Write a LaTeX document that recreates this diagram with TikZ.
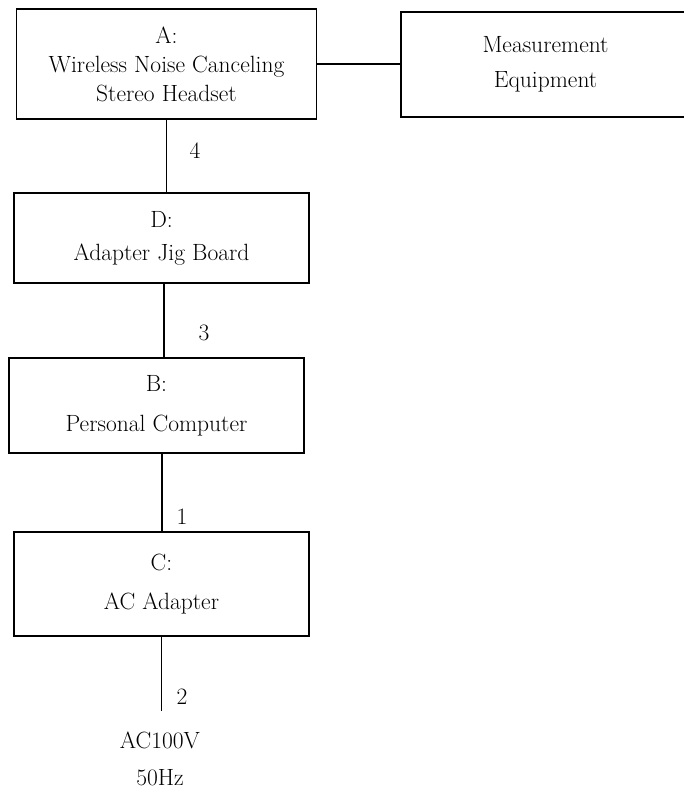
\documentclass[tikz,border=0pt]{standalone}
\usetikzlibrary{positioning}
\tikzset{
  unitbox/.style={draw, line width=1.5pt, inner sep=0pt, align=center},
  wire/.style={line width=1.5pt},
  wirelabel/.style={inner sep=0pt, font=\fontsize{23.5}{29}\selectfont},
}
\begin{document}
\begin{tikzpicture}[x=1pt,y=-1pt]
    \useasboundingbox (0,0) rectangle (683,791);
    % units
    \node[unitbox, minimum width=300pt, minimum height=110pt, font=\fontsize{23.5}{29}\selectfont] (headset) at (166.5,64) {A:\\Wireless Noise Canceling\\Stereo Headset};
    \node[unitbox, minimum width=289pt, minimum height=105pt, font=\fontsize{23.5}{35}\selectfont] (meter) at (545.5,64.5) {Measurement\\Equipment};
    \node[unitbox, minimum width=295pt, minimum height=90pt, font=\fontsize{23.5}{33}\selectfont] (jig) at (161.5,238) {D:\\Adapter Jig Board};
    \node[unitbox, minimum width=295pt, minimum height=95pt, font=\fontsize{23.5}{40}\selectfont] (pc) at (156.5,405.5) {B:\\Personal Computer};
    \node[unitbox, minimum width=295pt, minimum height=104pt, font=\fontsize{23.5}{39}\selectfont] (adapter) at (161.5,584) {C:\\AC Adapter};
    % mains
    \coordinate (mains) at (161,711);
    \node[inner sep=0pt, align=center, font=\fontsize{23.5}{37}\selectfont] (supply) at (160,759) {AC100V\\50Hz};
    % cables
    \draw[wire] (headset.east) -- (headset.east -| meter.west);
    \draw[wire] (headset.south) -- (headset.south |- jig.north);
    \draw[wire] ([xshift=2.5pt]jig.south) -- ([xshift=2.5pt]jig.south |- pc.north);
    \draw[wire] ([xshift=5.5pt]pc.south) -- ([xshift=5.5pt]pc.south |- adapter.north);
    \draw[wire] (adapter.south) -- (adapter.south |- mains);
    % cable numbers
    \node[wirelabel] (cable4) at (195,151) {4};
    \node[wirelabel] (cable3) at (204,333) {3};
    \node[wirelabel] (cable1) at (182,517) {1};
    \node[wirelabel] (cable2) at (182,697) {2};
\end{tikzpicture}
\end{document}
